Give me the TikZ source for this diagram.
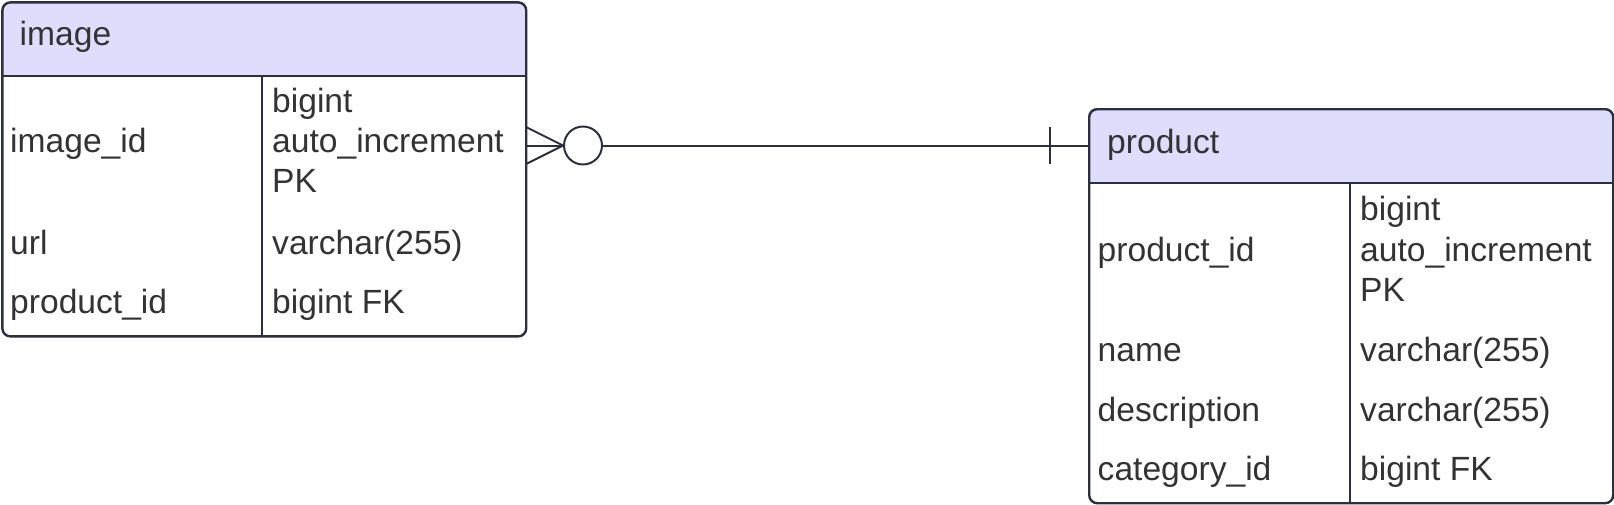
\documentclass[tikz,border=0pt]{standalone}
\usepackage{fontspec}
\setmainfont{Liberation Sans}
\definecolor{hdr}{RGB}{222,222,252}
\definecolor{edge}{RGB}{44,48,62}
\definecolor{txt}{RGB}{51,51,51}
\begin{document}
\begin{tikzpicture}[x=1pt,y=-1pt,
  tab/.style={draw=edge,line width=2.4pt,rounded corners=8pt,anchor=north west,inner sep=0pt},
  hdrline/.style={draw=edge,line width=2.4pt},
  coldiv/.style={draw=edge,line width=1.4pt},
  lbl/.style={anchor=base west,inner sep=0pt,text=txt,font=\fontsize{33.6}{40}\selectfont},
  conn/.style={draw=edge,line width=2pt}]
\useasboundingbox (0,0) rectangle (1614,504);
% ---- image table ----
\fill[hdr] (1.2,76) [rounded corners=8pt] -- (1.2,1.2) -- (525,1.2) [sharp corners] -- (525,76) -- cycle;
\node[tab,minimum width=523.8pt,minimum height=334pt] (imgtab) at (1.2,1.2) {};
\draw[hdrline] (1.2,76) -- (525,76);
\draw[coldiv] (262,76) -- (262,335.2);
\node[lbl] (imgh) at (19.5,45) {image};
\node[lbl] (i1a) at (10,152.5) {image\_id};
\node[lbl] (i1b) at (272,112.5) {bigint};
\node[lbl] (i1c) at (272,152.5) {auto\_increment};
\node[lbl] (i1d) at (272,192.5) {PK};
\node[lbl] (i2a) at (10,254) {url};
\node[lbl] (i2b) at (272,254) {varchar(255)};
\node[lbl] (i3a) at (10,313.5) {product\_id};
\node[lbl] (i3b) at (272,313.5) {bigint FK};
% ---- product table ----
\fill[hdr] (1088,183) [rounded corners=8pt] -- (1088,108) -- (1612,108) [sharp corners] -- (1612,183) -- cycle;
\node[tab,minimum width=524pt,minimum height=394pt] (prodtab) at (1088,108) {};
\draw[hdrline] (1088,183) -- (1612,183);
\draw[coldiv] (1350,183) -- (1350,502);
\node[lbl] (ph) at (1107,153) {product};
\node[lbl] (p1a) at (1097.5,261) {product\_id};
\node[lbl] (p1b) at (1360,220.5) {bigint};
\node[lbl] (p1c) at (1360,261) {auto\_increment};
\node[lbl] (p1d) at (1360,301) {PK};
\node[lbl] (p2a) at (1097.5,361) {name};
\node[lbl] (p2b) at (1360,361) {varchar(255)};
\node[lbl] (p3a) at (1097.5,421) {description};
\node[lbl] (p3b) at (1360,421) {varchar(255)};
\node[lbl] (p4a) at (1097.5,480.5) {category\_id};
\node[lbl] (p4b) at (1360,480.5) {bigint FK};
% ---- relationship ----
\node[draw=edge,line width=2pt,circle,minimum size=38pt,inner sep=0pt] (circ) at (583,145.5) {};
\coordinate (ca) at (526,145.5);
\coordinate (cu) at (526,127);
\coordinate (cd) at (526,164);
\coordinate (pe) at (1088,145.5);
\coordinate (bt) at (1050,127);
\coordinate (bb) at (1050,164);
\draw[conn] (cu) -- (circ.west);
\draw[conn] (ca) -- (circ.west);
\draw[conn] (cd) -- (circ.west);
\draw[conn] (circ.east) -- (pe);
\draw[conn] (bt) -- (bb);
\end{tikzpicture}
\end{document}
